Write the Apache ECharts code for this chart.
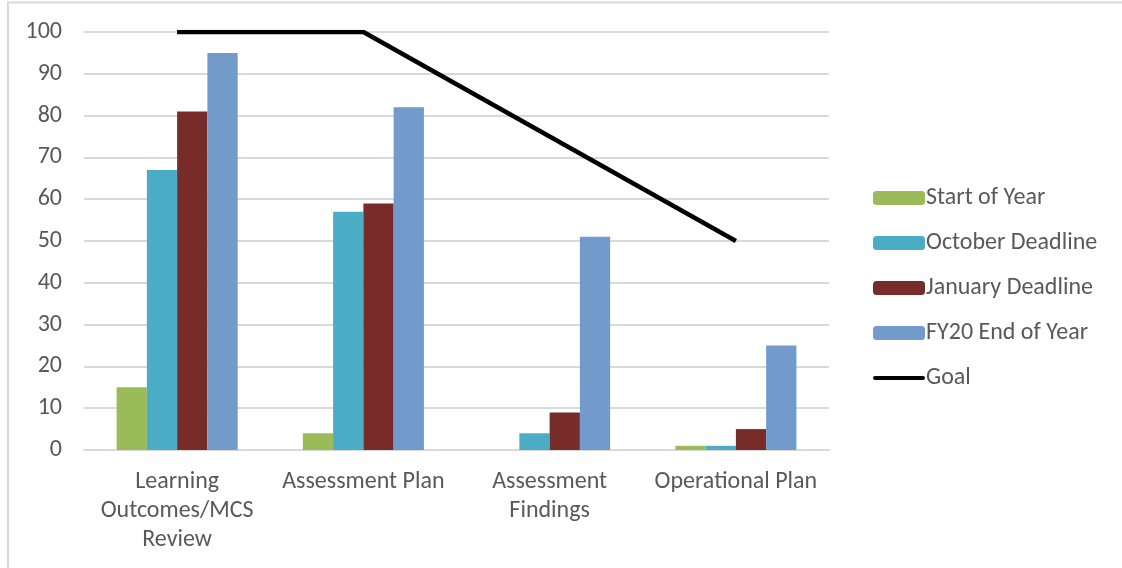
<!DOCTYPE html>
<html>
<head>
<meta charset="utf-8">
<script src="https://cdn.jsdelivr.net/npm/echarts@6/dist/echarts.min.js"></script>
<style>
  html, body { margin: 0; padding: 0; background: #fff; }
  #chart { width: 1122px; height: 568px; }
</style>
</head>
<body>
<div id="chart"></div>
<script>
// categories and values
const categories = ['Learning\nOutcomes/MCS\nReview', 'Assessment Plan', 'Assessment\nFindings', 'Operational Plan']
const startOfYear = [15, 4, 0, 1]
const octoberDeadline = [67, 57, 4, 1]
const januaryDeadline = [81, 59, 9, 5]
const fy20EndOfYear = [95, 82, 51, 25]
const goal = [100, 100, 75, 50]

const fontFamily = 'Carlito, "Open Sans", "Liberation Sans", sans-serif'
const textColor = '#595959'

const myChart = echarts.init(document.getElementById('chart'))

function barSeries(name, data, color) {
  return {
    name: name,
    type: 'bar',
    data: data,
    barGap: '0%',
    barCategoryGap: '35%',
    itemStyle: { color: color }
  }
}

const option = {
  animation: false,
  textStyle: { fontFamily: fontFamily },
  graphic: [{
    type: 'rect',
    shape: { x: 8, y: 2.5, width: 1130, height: 600 },
    style: { fill: 'none', stroke: '#d9d9d9', lineWidth: 2 },
    silent: true
  }],
  grid: { left: 84, right: 293, top: 32, bottom: 118 },
  legend: {
    orient: 'vertical',
    left: 868,
    top: 181,
    itemWidth: 52,
    itemHeight: 14,
    itemGap: 21,
    textStyle: { fontSize: 24, lineHeight: 24, color: textColor, fontFamily: fontFamily, padding: [0, 0, 0, -4] },
    data: [
      'Start of Year',
      'October Deadline',
      'January Deadline',
      'FY20 End of Year',
      { name: 'Goal', icon: 'path://M2,0 L50,0 A2,2 0 0 1 50,4 L2,4 A2,2 0 0 1 2,0 Z' }
    ]
  },
  xAxis: {
    type: 'category',
    data: categories,
    axisLine: { lineStyle: { color: '#d9d9d9', width: 2 } },
    axisTick: { show: false },
    axisLabel: {
      color: textColor,
      fontSize: 24,
      lineHeight: 29,
      margin: 17,
      interval: 0,
      fontFamily: fontFamily
    }
  },
  yAxis: {
    type: 'value',
    min: 0,
    max: 100,
    interval: 10,
    axisLine: { show: false },
    axisTick: { show: false },
    splitLine: { lineStyle: { color: '#d9d9d9', width: 2 } },
    axisLabel: { color: textColor, fontSize: 24, margin: 22, fontFamily: fontFamily }
  },
  series: [
    barSeries('Start of Year', startOfYear, '#9bbb59'),
    barSeries('October Deadline', octoberDeadline, '#4bacc6'),
    barSeries('January Deadline', januaryDeadline, '#772c2a'),
    barSeries('FY20 End of Year', fy20EndOfYear, '#729aca'),
    {
      name: 'Goal',
      type: 'line',
      data: goal,
      symbol: 'none',
      lineStyle: { color: '#000', width: 4.5 },
      itemStyle: { color: '#000' },
      z: 5
    }
  ]
}

myChart.setOption(option)
</script>
</body>
</html>
